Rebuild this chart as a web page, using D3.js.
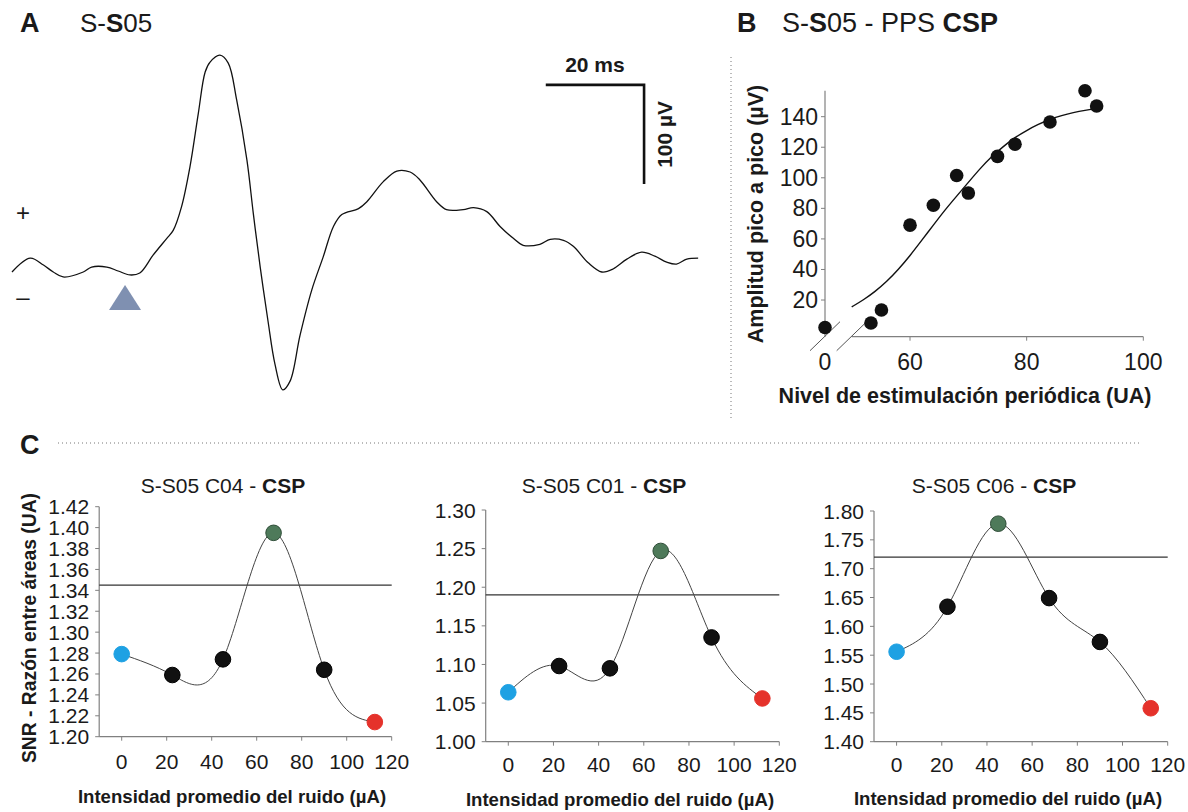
<!DOCTYPE html>
<html><head><meta charset="utf-8">
<script src="https://cdn.jsdelivr.net/npm/d3@7"></script>
<style>
body{margin:0;background:#fff}
text{font-family:"Liberation Sans",Arial,Helvetica,sans-serif;fill:#1a1a1a}
</style>
</head><body>
<svg id="fig" width="1188" height="812" xmlns="http://www.w3.org/2000/svg"></svg>
<script>
// ---------------- Panel A : evoked waveform ----------------
const waveTimeMs = [0,3.7,6.4,8.4,10.4,14.5,16.2,19.3,21.6,24,26,28.7,31.5,32.8,34.5,36.2,37.9,39.3,40.3,42.3,44,45.7,47.8,49.1,50.5,52.1,53.5,55.1,56.6,58.6,61,63.3,65.4,67.1,70.5,72.2,75.5,78.3,81,83,86.4,88.4,91.8,93.9,96.6,99.3,102,104,107.4,109.5,112.2,114.2,117.3,120,122.3,125.1,128.1,130.8,133.2,135.2,137.3,139.6];
const waveAmpUv = [0,14,7,0,-5,0,5,5,1,-3,-1,17,34,42,66,106,160,202,212,219,211,174,113,59,5,-50,-93,-119,-110,-64,-18,15,46,58,64,71,91,102,101,93,71,63,63,65,61,46,34,27,28,33,32,26,9,0,3,13,20,16,10,8,13,14];
const stimOnsetMs = 23;
const scaleBarMs = 20;
const scaleBarUv = 100;
const scaleBarEndMs = 128.6;
const scaleBarTopUv = 189;

// ---------------- Panel B : PPS input-output ----------------
const ppsLevel = [0, 53.3, 55.1, 60, 64, 68, 70, 75, 78, 84, 90, 92];
const ppsAmp   = [2, 5, 13.5, 69, 82, 101.5, 90, 114, 122, 136.5, 157, 147];
const fitLevel = [50, 52, 54, 56, 58, 60, 62, 64, 66, 68, 70, 72, 74, 76, 78, 80, 82, 84, 86, 88, 90, 92];
const fitAmp   = [15.5, 20, 25.5, 32, 40, 49, 59, 69, 79, 88, 97, 106, 114, 120.5, 126.5, 131, 135, 138.3, 140.8, 142.7, 144.2, 145.3];
const bYTicks = [20, 40, 60, 80, 100, 120, 140];
const bXTicks = [60, 80, 100];
const bXBreakLabel = [0];

// ---------------- Panel C : SNR vs noise ----------------
const noiseLevels = [0, 22.5, 45, 67.5, 90, 112.5];
const noiseTicks = [0, 20, 40, 60, 80, 100, 120];
const snrC04 = [1.279, 1.259, 1.274, 1.395, 1.264, 1.214];
const snrC01 = [1.064, 1.098, 1.095, 1.247, 1.135, 1.056];
const snrC06 = [1.556, 1.634, 1.778, 1.649, 1.573, 1.458];
const thrC04 = 1.345, thrC01 = 1.19, thrC06 = 1.72;
const ticksC04 = [1.20,1.22,1.24,1.26,1.28,1.30,1.32,1.34,1.36,1.38,1.40,1.42];
const ticksC01 = [1.00,1.05,1.10,1.15,1.20,1.25,1.30];
const ticksC06 = [1.40,1.45,1.50,1.55,1.60,1.65,1.70,1.75,1.80];
const peakC04 = 3, peakC01 = 3, peakC06 = 2;

// ============================================================
const svg = d3.select("#fig");
svg.append("rect").attr("width",1188).attr("height",812).attr("fill","#fff");

function mixedText(g, x, y, parts, size, anchor) {
  const t = g.append("text").attr("x", x).attr("y", y)
    .attr("font-size", size).attr("text-anchor", anchor || "start");
  parts.forEach(p => t.append("tspan").text(p[0]).attr("font-weight", p[1] ? "bold" : "normal"));
  return t;
}

// separators
svg.append("line").attr("x1",731).attr("x2",731).attr("y1",57).attr("y2",420)
  .attr("stroke","#777").attr("stroke-width",1).attr("stroke-dasharray","1,3");
svg.append("line").attr("x1",58).attr("x2",1142).attr("y1",443).attr("y2",443)
  .attr("stroke","#777").attr("stroke-width",1).attr("stroke-dasharray","1,3");

// ---------------- Panel A ----------------
const gA = svg.append("g");
gA.append("text").attr("x",20).attr("y",32).attr("font-size",27).attr("font-weight","bold").text("A");
mixedText(gA, 80, 32, [["S-",0],["S",1],["05",0]], 26);

const xA = d3.scaleLinear().domain([0,140]).range([12, 700.1]);
const yA = d3.scaleLinear().domain([0,100]).range([272, 173]);

gA.append("path").datum(waveTimeMs.map((t,i)=>[t, waveAmpUv[i]]))
  .attr("fill","none").attr("stroke","#111").attr("stroke-width",1.3)
  .attr("d", d3.line().x(d=>xA(d[0])).y(d=>yA(d[1])).curve(d3.curveCatmullRom));

// polarity marks
gA.append("text").attr("x",23).attr("y",221).attr("font-size",24).attr("text-anchor","middle").text("+");
gA.append("text").attr("x",23).attr("y",305).attr("font-size",24).attr("text-anchor","middle").text("–");

// stimulus triangle
const tx = xA(stimOnsetMs);
gA.append("path").attr("d", `M${tx-16},310 L${tx+16},310 L${tx},285 Z`).attr("fill","#7f90b1");

// scale bar
const sbX1 = xA(scaleBarEndMs), sbX0 = xA(scaleBarEndMs - scaleBarMs);
const sbY0 = yA(scaleBarTopUv), sbY1 = yA(scaleBarTopUv - scaleBarUv);
gA.append("path").attr("d", `M${sbX0},${sbY0} L${sbX1},${sbY0} L${sbX1},${sbY1}`)
  .attr("fill","none").attr("stroke","#111").attr("stroke-width",2.6);
gA.append("text").attr("x",(sbX0+sbX1)/2).attr("y",sbY0-13).attr("font-size",21)
  .attr("font-weight","bold").attr("text-anchor","middle").text(scaleBarMs + " ms");
gA.append("text").attr("transform",`translate(${sbX1+28},${(sbY0+sbY1)/2}) rotate(-90)`)
  .attr("font-size",21).attr("font-weight","bold").attr("text-anchor","middle").text(scaleBarUv + " µV");

// ---------------- Panel B ----------------
const gB = svg.append("g");
gB.append("text").attr("x",737).attr("y",32).attr("font-size",27).attr("font-weight","bold").text("B");
mixedText(gB, 782, 32, [["S-",0],["S",1],["05 - PPS ",0],["CSP",1]], 27);

const xB = d3.scaleLinear().domain([0, 50, 100]).range([825, 851.7, 1143.3]);
const yB = d3.scaleLinear().domain([-4, 157]).range([336.7, 90.7]);
const axisCol = "#808080";

gB.append("line").attr("x1",xB(0)).attr("x2",xB(0)).attr("y1",yB(157)).attr("y2",yB(-4))
  .attr("stroke",axisCol).attr("stroke-width",1.2);
gB.append("line").attr("x1",xB(50)).attr("x2",xB(100)).attr("y1",yB(-4)).attr("y2",yB(-4))
  .attr("stroke",axisCol).attr("stroke-width",1.2);
// break marks
[xB(0), xB(50)].forEach(cx => {
  gB.append("line").attr("x1",cx-15).attr("y1",yB(-4)+14).attr("x2",cx+15).attr("y2",yB(-4)-15)
    .attr("stroke","#555").attr("stroke-width",1);
});
bYTicks.forEach(v => {
  gB.append("line").attr("x1",xB(0)-4).attr("x2",xB(0)).attr("y1",yB(v)).attr("y2",yB(v))
    .attr("stroke",axisCol).attr("stroke-width",1);
  gB.append("text").attr("x",xB(0)-7).attr("y",yB(v)+8).attr("font-size",23)
    .attr("text-anchor","end").text(v);
});
bXTicks.forEach(v => {
  gB.append("line").attr("x1",xB(v)).attr("x2",xB(v)).attr("y1",yB(-4)).attr("y2",yB(-4)+4)
    .attr("stroke",axisCol).attr("stroke-width",1);
});
bXBreakLabel.concat(bXTicks).forEach(v => {
  gB.append("text").attr("x",xB(v)).attr("y",370).attr("font-size",23)
    .attr("text-anchor","middle").text(v);
});
gB.append("path").datum(fitLevel.map((x,i)=>[x, fitAmp[i]]))
  .attr("fill","none").attr("stroke","#111").attr("stroke-width",1.4)
  .attr("d", d3.line().x(d=>xB(d[0])).y(d=>yB(d[1])).curve(d3.curveBasis));
gB.selectAll("circle.pt").data(ppsLevel.map((x,i)=>[x, ppsAmp[i]])).enter()
  .append("circle").attr("cx",d=>xB(d[0])).attr("cy",d=>yB(d[1])).attr("r",6.8).attr("fill","#111");
gB.append("text").attr("transform",`translate(763,214) rotate(-90)`).attr("font-size",21.5)
  .attr("font-weight","bold").attr("text-anchor","middle").text("Amplitud pico a pico (µV)");
gB.append("text").attr("x",965).attr("y",403).attr("font-size",21.5)
  .attr("font-weight","bold").attr("text-anchor","middle").text("Nivel de estimulación periódica (UA)");

// ---------------- Panel C ----------------
svg.append("text").attr("x",20).attr("y",454).attr("font-size",27).attr("font-weight","bold").text("C");
svg.append("text").attr("transform",`translate(36,628) rotate(-90)`).attr("font-size",19.3)
  .attr("font-weight","bold").attr("text-anchor","middle").text("SNR - Razón entre áreas (UA)");

function drawC(cfg) {
  const g = svg.append("g");
  const x = d3.scaleLinear().domain([-10,120]).range(cfg.xr);
  const y = d3.scaleLinear().domain([cfg.ticks[0], cfg.ticks[cfg.ticks.length-1]]).range(cfg.yr);
  const x0 = cfg.xr[0], x1 = cfg.xr[1], yb = cfg.yr[0], yt = cfg.yr[1];
  g.append("line").attr("x1",x0).attr("x2",x0).attr("y1",yt).attr("y2",yb).attr("stroke",axisCol).attr("stroke-width",1.2);
  g.append("line").attr("x1",x0).attr("x2",x1).attr("y1",yb).attr("y2",yb).attr("stroke",axisCol).attr("stroke-width",1.2);
  cfg.ticks.forEach(v => {
    g.append("line").attr("x1",x0-4).attr("x2",x0).attr("y1",y(v)).attr("y2",y(v)).attr("stroke",axisCol);
    g.append("text").attr("x",x0-10).attr("y",y(v)+7.5).attr("font-size",21).attr("text-anchor","end").text(v.toFixed(2));
  });
  noiseTicks.forEach(v => {
    g.append("line").attr("x1",x(v)).attr("x2",x(v)).attr("y1",yb).attr("y2",yb+4).attr("stroke",axisCol);
    g.append("text").attr("x",x(v)).attr("y",cfg.tickY).attr("font-size",21).attr("text-anchor","middle").text(v);
  });
  // threshold
  g.append("line").attr("x1",x0).attr("x2",x1).attr("y1",y(cfg.thr)).attr("y2",y(cfg.thr))
    .attr("stroke","#333").attr("stroke-width",1.3);
  const pts = noiseLevels.map((n,i)=>[n, cfg.vals[i]]);
  g.append("path").datum(pts).attr("fill","none").attr("stroke","#444").attr("stroke-width",1)
    .attr("d", d3.line().x(d=>x(d[0])).y(d=>y(d[1])).curve(d3.curveNatural));
  const colOf = i => i===0 ? "#1ea1e3" : i===pts.length-1 ? "#e5322b" : i===cfg.peak ? "#4e7a5a" : "#111";
  const strokeOf = i => i===0 ? "#1ea1e3" : i===pts.length-1 ? "#e5322b" : i===cfg.peak ? "#2f4d38" : "#000";
  g.selectAll("circle").data(pts).enter().append("circle")
    .attr("cx",d=>x(d[0])).attr("cy",d=>y(d[1])).attr("r",7.8)
    .attr("fill",(d,i)=>colOf(i)).attr("stroke",(d,i)=>strokeOf(i)).attr("stroke-width",1);
  mixedText(g, cfg.titleX, 493, [[cfg.title + " - ",0],["CSP",1]], 21, "middle");
  g.append("text").attr("x",cfg.labX).attr("y",cfg.labY).attr("font-size",18.6).attr("font-weight","bold")
    .attr("text-anchor","middle").text("Intensidad promedio del ruido (µA)");
}

drawC({xr:[99.2,391.7], yr:[736.7,506.7], ticks:ticksC04, vals:snrC04, thr:thrC04, peak:peakC04,
       title:"S-S05 C04", titleX:223, tickY:769, labY:803, labX:232});
drawC({xr:[485.7,779.3], yr:[741.7,510], ticks:ticksC01, vals:snrC01, thr:thrC01, peak:peakC01,
       title:"S-S05 C01", titleX:604, tickY:772, labY:806, labX:620});
drawC({xr:[874,1167.7], yr:[741.7,511], ticks:ticksC06, vals:snrC06, thr:thrC06, peak:peakC06,
       title:"S-S05 C06", titleX:994, tickY:772, labY:805, labX:1008});
</script>
</body></html>
